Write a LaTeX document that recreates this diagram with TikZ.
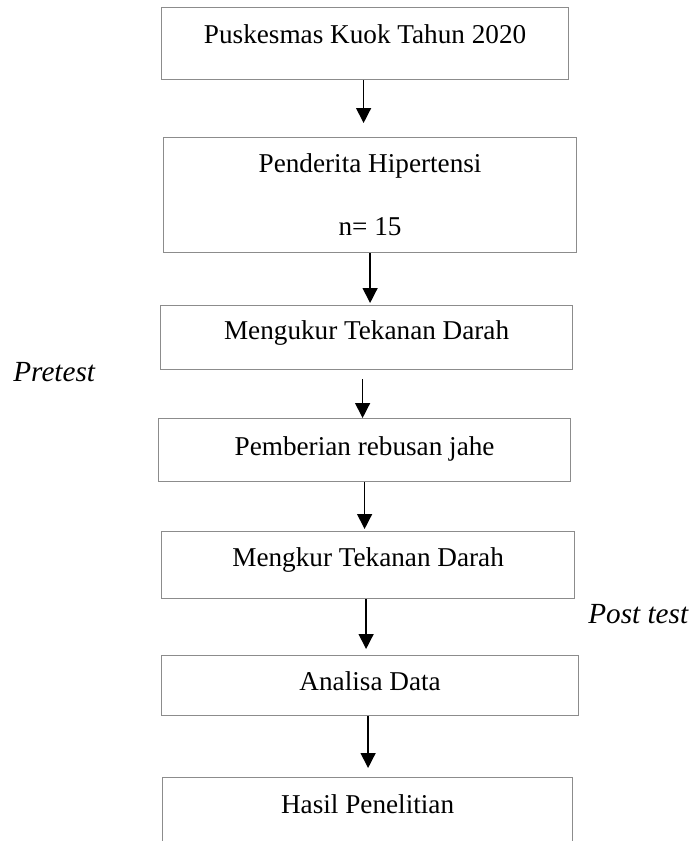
\documentclass[tikz,border=0pt]{standalone}
\usepackage{fontspec}
\setmainfont{Liberation Serif}
\usetikzlibrary{arrows.meta, calc}

\begin{document}
\begin{tikzpicture}[x=0.5pt, y=-0.5pt, font=\fontsize{13.6}{16}\selectfont,
            box/.style={draw=gray!90, line width=0.6pt, inner sep=0pt, anchor=north west},
            arr/.style={-{Triangle[length=7.5pt, width=7.5pt]}, line width=0.7pt},
            side/.style={anchor=base west, inner sep=0pt, font=\fontsize{14.6}{17}\selectfont\itshape}]
            \useasboundingbox (0,0) rectangle (692,841);
            \clip (0,0) rectangle (692,841);
            \node[box, minimum width=203.5pt, text height=18pt, text depth=18pt] (kuok) at (161,7) {Puskesmas Kuok Tahun 2020};
            \node[box, minimum width=206.5pt, text height=49pt, text depth=8.5pt, align=center] (pasien) at (163,137) {Penderita Hipertensi\\[15.5pt]n= 15};
            \node[box, minimum width=206pt, text height=17pt, text depth=15pt] (ukur1) at (160,305) {Mengukur Tekanan Darah};
            \node[box, minimum width=206pt, text height=18.5pt, text depth=13pt] (jahe) at (158,418) {Pemberian rebusan jahe};
            \node[box, minimum width=206.5pt, text height=17.5pt, text depth=16pt] (ukur2) at (161,531) {Mengkur Tekanan Darah};
            \node[box, minimum width=208.5pt, text height=17.5pt, text depth=12.5pt] (analisa) at (161,655) {Analisa Data};
            \node[box, minimum width=205pt, text height=18pt, text depth=28.5pt] (hasil) at (162,777) {Hasil Penelitian};
            \node[side] (pre) at (13,381) {Pretest};
            \node[side] (post) at (588,623) {Post test};
            \draw[arr, shorten >=7pt] ([xshift=-0.75pt]kuok.south) -- ([xshift=-0.75pt]kuok.south |- pasien.north);
            \draw[arr, shorten >=1pt] (pasien.south) -- (pasien.south |- ukur1.north);
            \draw[arr, shorten <=4.5pt] ([xshift=-2pt]ukur1.south) -- ([xshift=-2pt]ukur1.south |- jahe.north);
            \draw[arr, shorten >=1pt] (jahe.south) -- (jahe.south |- ukur2.north);
            \draw[arr, shorten >=3pt] ([xshift=-1pt]ukur2.south) -- ([xshift=-1pt]ukur2.south |- analisa.north);
            \draw[arr, shorten >=4.5pt] ([xshift=-1pt]analisa.south) -- ([xshift=-1pt]analisa.south |- hasil.north);
        \end{tikzpicture}
\end{document}
